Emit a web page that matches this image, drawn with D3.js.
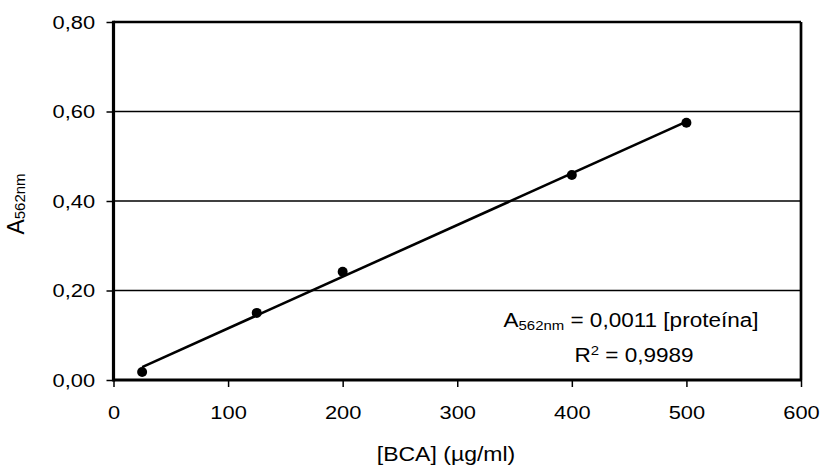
<!DOCTYPE html>
<html>
<head>
<meta charset="utf-8">
<script src="https://cdn.jsdelivr.net/npm/d3@7"></script>
<style>
  body { margin: 0; background: #fff; }
  text { font-family: "Liberation Sans", Arial, sans-serif; fill: #000; }
</style>
</head>
<body>
<script>
  // data
  var concBCA = [25, 125, 200, 400, 500];
  var absorb = [0.018, 0.150, 0.242, 0.458, 0.575];
  var xTicks = [0, 100, 200, 300, 400, 500, 600];
  var yTicks = [0, 0.2, 0.4, 0.6, 0.8];
  var xTitle = '[BCA] (µg/ml)';
  var eqnText = ' = 0,0011 [proteína]';
  var r2Text = ' = 0,9989';

  var W = 820, H = 468;
  var SX = 1.15; // text in the picture is a bit wide
  var FS = 19;

  var svg = d3.select('body').append('svg')
    .attr('width', W)
    .attr('height', H);

  var x = d3.scaleLinear().domain([0, 600]).range([113.5, 801]);
  var y = d3.scaleLinear().domain([0, 0.8]).range([380, 22]);

  // gridlines
  svg.append('g').selectAll('line')
    .data(yTicks.filter(function(d){ return d > 0 && d < 0.8; }))
    .enter().append('line')
    .attr('x1', x(0)).attr('x2', x(600))
    .attr('y1', function(d){ return y(d); })
    .attr('y2', function(d){ return y(d); })
    .attr('stroke', '#000')
    .attr('stroke-width', 1.3);

  // axes
  var xAxis = svg.append('g')
    .attr('transform', 'translate(0,' + y(0) + ')')
    .call(d3.axisBottom(x).tickValues(xTicks).tickSize(7).tickSizeOuter(0).tickPadding(19)
      .tickFormat(d3.format('d')));

  var yAxis = svg.append('g')
    .attr('transform', 'translate(' + x(0) + ',0)')
    .call(d3.axisLeft(y).tickValues(yTicks).tickSize(7).tickSizeOuter(0).tickPadding(9)
      .tickFormat(function(d){ return d.toFixed(2).replace('.', ','); }));

  [xAxis, yAxis].forEach(function(a){
    a.select('.domain').remove();
    a.selectAll('line').attr('stroke', '#000').attr('stroke-width', 1.5);
    a.selectAll('text')
      .style('font-family', '"Liberation Sans", Arial, sans-serif')
      .style('font-size', FS + 'px')
      .attr('fill', '#000')
      .attr('transform', 'scale(' + SX + ',1)');
  });

  // frame
  svg.append('line').attr('x1', x(0)).attr('x2', x(600)).attr('y1', y(0.8)).attr('y2', y(0.8))
    .attr('stroke', '#000').attr('stroke-width', 2.5);
  svg.append('line').attr('x1', x(600)).attr('x2', x(600)).attr('y1', y(0.8)).attr('y2', y(0))
    .attr('stroke', '#000').attr('stroke-width', 2.7);
  svg.append('line').attr('x1', x(0)).attr('x2', x(600)).attr('y1', y(0)).attr('y2', y(0))
    .attr('stroke', '#000').attr('stroke-width', 3);
  svg.append('line').attr('x1', x(0)).attr('x2', x(0)).attr('y1', y(0.8) - 1.2).attr('y2', y(0) + 1.5)
    .attr('stroke', '#000').attr('stroke-width', 3.2);

  // least squares trendline through the points
  var mx = d3.mean(concBCA), my = d3.mean(absorb);
  var sxy = d3.sum(concBCA, function(d, i){ return (d - mx) * (absorb[i] - my); });
  var sxx = d3.sum(concBCA, function(d){ return (d - mx) * (d - mx); });
  var slope = sxy / sxx, icpt = my - slope * mx;
  var ends = d3.extent(concBCA);

  svg.append('line')
    .attr('x1', x(ends[0])).attr('y1', y(icpt + slope * ends[0]))
    .attr('x2', x(ends[1])).attr('y2', y(icpt + slope * ends[1]))
    .attr('stroke', '#000')
    .attr('stroke-width', 2.6);

  // points
  svg.append('g').selectAll('circle')
    .data(concBCA)
    .enter().append('circle')
    .attr('cx', function(d){ return x(d); })
    .attr('cy', function(d, i){ return y(absorb[i]); })
    .attr('r', 5)
    .attr('fill', '#000');

  // axis titles
  svg.append('text')
    .attr('transform', 'translate(446,461) scale(' + SX + ',1)')
    .attr('text-anchor', 'middle')
    .style('font-size', '20px')
    .text(xTitle);

  var yt = svg.append('text')
    .attr('transform', 'translate(24,204) rotate(-90)')
    .attr('text-anchor', 'middle')
    .style('font-size', '23px');
  yt.append('tspan').text('A');
  yt.append('tspan').attr('dy', 1).style('font-size', '15px').text('562nm');

  // equation
  var eq = svg.append('text')
    .attr('transform', 'translate(631,327) scale(' + SX + ',1)')
    .attr('text-anchor', 'middle')
    .style('font-size', '19.6px');
  eq.append('tspan').text('A');
  eq.append('tspan').attr('dy', 3).style('font-size', '13px').text('562nm');
  eq.append('tspan').attr('dy', -3).text(eqnText);

  var r2 = svg.append('text')
    .attr('transform', 'translate(634,362) scale(' + SX + ',1)')
    .attr('text-anchor', 'middle')
    .style('font-size', '19.6px');
  r2.append('tspan').text('R');
  r2.append('tspan').attr('dy', -7).style('font-size', '13px').text('2');
  r2.append('tspan').attr('dy', 7).text(r2Text);
</script>
</body>
</html>
